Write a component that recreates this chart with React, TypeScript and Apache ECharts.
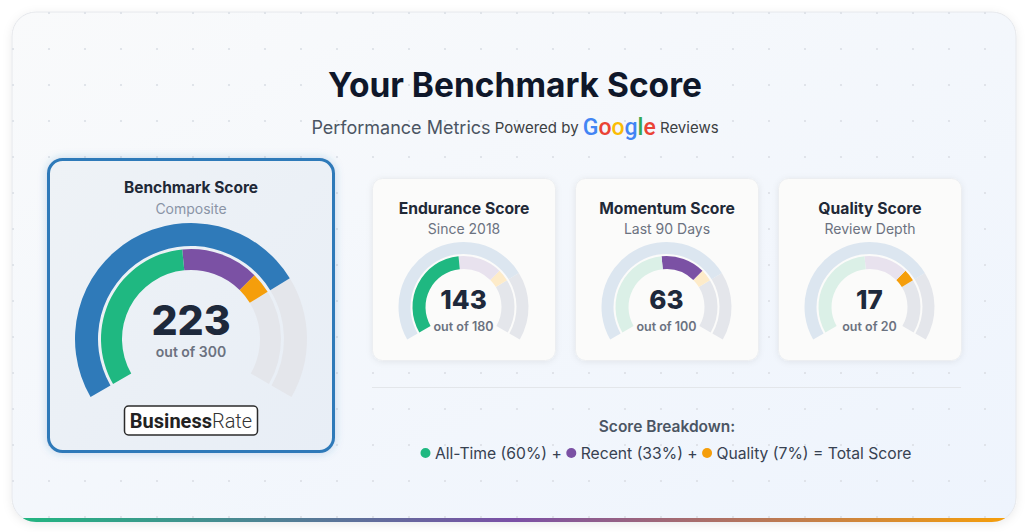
import React, { useEffect, useRef } from 'react';
import * as echarts from 'echarts';

// ---- data ----
const components = ['All-Time', 'Recent', 'Quality'];
const scores = [143, 63, 17];
const maxes = [180, 100, 20];
const cardTitles = ['Endurance Score', 'Momentum Score', 'Quality Score'];
const cardSubtitles = ['Since 2018', 'Last 90 Days', 'Review Depth'];
const mainTitle = 'Your Benchmark Score';
const compositeTitle = 'Benchmark Score';
const compositeSubtitle = 'Composite';
const googleLetters = ['G', 'o', 'o', 'g', 'l', 'e'];

// ---- styles ----
const solid = ['#1fb881', '#7b51a4', '#f59e0b'];
const faded = ['#dbf0e7', '#e8e2ee', '#fdebc9'];
const googleColors = ['#4285F4', '#EA4335', '#FBBC05', '#4285F4', '#34A853', '#EA4335'];
const BLUE = '#2f7ab9';
const BLUE_FADED = '#dce6f0';
const GRAY = '#e4e6eb';
const FONT = 'Inter, sans-serif';

const totalMax = maxes.reduce((a, b) => a + b, 0);
const totalScore = scores.reduce((a, b) => a + b, 0);
const weights = maxes.map((m) => Math.round((m / totalMax) * 100));

function ringPair(
  cx: number, cy: number, rO: number, wO: number, rI: number, wI: number,
  highlight: number | null, value: number, label: string,
  valueSize: number, valueOff: number, labelSize: number, labelOff: number
) {
  const base = {
    type: 'gauge', z: 10, center: [cx, cy], startAngle: 210, endAngle: -30, min: 0, max: totalMax,
    pointer: { show: false }, progress: { show: false }, axisTick: { show: false },
    splitLine: { show: false }, axisLabel: { show: false }, anchor: { show: false },
    silent: true,
  };
  const outer = {
    ...base, radius: rO,
    axisLine: { roundCap: false, lineStyle: { width: wO, color: [[totalScore / totalMax, highlight === null ? BLUE : BLUE_FADED], [1, GRAY]] } },
    title: { show: false }, detail: { show: false }, data: [{ value: totalScore }],
  };
  let acc = 0;
  const stops: any[] = scores.map((s, j) => {
    acc += s;
    return [acc / totalMax, highlight === null || highlight === j ? solid[j] : faded[j]];
  });
  stops.push([1, GRAY]);
  const inner = {
    ...base, radius: rI,
    axisLine: { roundCap: false, lineStyle: { width: wI, color: stops } },
    detail: { show: true, offsetCenter: [0, valueOff], fontSize: valueSize, fontWeight: 800, color: '#1e293b', fontFamily: FONT, formatter: '{value}', valueAnimation: false, lineHeight: Math.round(valueSize * 0.8) },
    title: { show: true, offsetCenter: [0, labelOff], fontSize: labelSize, fontWeight: 600, color: '#6b7280', fontFamily: FONT, lineHeight: labelSize },
    data: [{ value, name: label }],
  };
  return [outer, inner];
}

function txt(x: number, y: number, text: string, size: number, weight: any, fill: string, extra: any = {}) {
  return {
    type: 'text', x, y, z: 5,
    style: {
      text, fontSize: size, fontWeight: weight, fontFamily: FONT, fill,
      align: 'center', verticalAlign: 'middle', textAlign: 'center', textVerticalAlign: 'middle', ...extra,
    },
  };
}

function buildOption() {
  const graphics: any[] = [];
  const CX0 = 12, CY0 = 12, CW = 1004, CH = 510, CR = 24;
  // main card
  graphics.push({
    type: 'rect', z: 0,
    shape: { x: CX0, y: CY0, width: CW, height: CH, r: CR },
    style: {
      fill: new echarts.graphic.LinearGradient(0, 0, 1, 1, [
        { offset: 0, color: '#f9fafb' }, { offset: 1, color: '#eef4fd' },
      ]),
      stroke: '#e6e8ec', lineWidth: 1, shadowBlur: 10, shadowColor: 'rgba(0,0,0,0.08)', shadowOffsetY: 2,
    },
  });
  // dot grid
  for (let x = 13; x < CX0 + CW; x += 36) {
    for (let y = 13; y < CY0 + CH - 3; y += 36) {
      const ccx = Math.min(Math.max(x, CX0 + CR), CX0 + CW - CR);
      const ccy = Math.min(Math.max(y, CY0 + CR), CY0 + CH - CR);
      if ((x - ccx) ** 2 + (y - ccy) ** 2 > (CR - 1) ** 2) continue;
      graphics.push({ type: 'circle', z: 1, shape: { cx: x, cy: y, r: 1.1 }, style: { fill: '#dde1e7' } });
    }
  }
  // bottom gradient bar (card bottom 4px clipped by rounded corners)
  const yb = CY0 + CH, yt = yb - 4;
  const lc = CX0 + CR, rc = CX0 + CW - CR, cyc = yb - CR;
  const pts: number[][] = [];
  for (let y = yt; y <= yb + 0.001; y += 0.5) {
    const dy = y - cyc;
    pts.push([lc - Math.sqrt(Math.max(0, CR * CR - dy * dy)), y]);
  }
  for (let y = yb; y >= yt - 0.001; y -= 0.5) {
    const dy = y - cyc;
    pts.push([rc + Math.sqrt(Math.max(0, CR * CR - dy * dy)), y]);
  }
  graphics.push({
    type: 'polygon', z: 2, shape: { points: pts },
    style: {
      fill: new echarts.graphic.LinearGradient(0, 0, 1, 0, [
        { offset: 0, color: '#22b581' }, { offset: 0.5, color: '#7b50a6' }, { offset: 1, color: '#f59e0b' },
      ]),
    },
  });

  // header
  graphics.push(txt(515, 85, mainTitle, 33.5, 700, '#0f172a'));
  const rich: any = {
    pm: { fontSize: 18, fontFamily: FONT, color: '#4b5563', fill: '#4b5563', lineHeight: 30 },
    pb: { fontSize: 15, fontFamily: FONT, color: '#3c4043', fill: '#3c4043', lineHeight: 30 },
  };
  googleLetters.forEach((_, i) => {
    rich['g' + i] = { fontSize: 23, fontFamily: 'Roboto, sans-serif', fontWeight: 500, color: googleColors[i], fill: googleColors[i], lineHeight: 30 };
  });
  const gText = googleLetters.map((l, i) => `{g${i}|${l}}`).join('');
  graphics.push({
    type: 'text', x: 515, y: 127, z: 5,
    style: {
      text: `{pm|Performance Metrics} {pb|Powered by} ${gText} {pb|Reviews}`,
      rich, fontSize: 15, fontFamily: FONT, fill: '#3c4043',
      align: 'center', verticalAlign: 'middle', textAlign: 'center', textVerticalAlign: 'middle',
    },
  });

  // composite card
  graphics.push({
    type: 'rect', z: 3,
    shape: { x: 48.5, y: 159.5, width: 285, height: 292, r: 14 },
    style: {
      fill: new echarts.graphic.LinearGradient(0, 0, 1, 1, [
        { offset: 0, color: '#eef2f6' }, { offset: 1, color: '#e8eef6' },
      ]),
      stroke: BLUE, lineWidth: 3, shadowBlur: 8, shadowColor: 'rgba(47,122,185,0.28)',
    },
  });
  graphics.push(txt(191, 187.5, compositeTitle, 15.5, 700, '#1f2937'));
  graphics.push(txt(191, 208.5, compositeSubtitle, 14, 400, '#8a94a6'));
  // BusinessRate logo
  graphics.push({
    type: 'rect', z: 4, shape: { x: 124.5, y: 406, width: 133, height: 29, r: 4 },
    style: { fill: '#ffffff', stroke: '#2b2b2b', lineWidth: 1.5 },
  });
  graphics.push({
    type: 'text', x: 191, y: 421, z: 5,
    style: {
      text: '{b|Business}{r|Rate}',
      rich: {
        b: { fontSize: 20, fontWeight: 700, fontFamily: 'Roboto, sans-serif', color: '#222222', fill: '#222222' },
        r: { fontSize: 20, fontWeight: 300, fontFamily: 'Roboto, sans-serif', color: '#333333', fill: '#333333' },
      },
      align: 'center', verticalAlign: 'middle', textAlign: 'center', textVerticalAlign: 'middle',
    },
  });

  // small cards
  const cardX = [372, 575, 778];
  const cardW = 183;
  cardX.forEach((x, i) => {
    graphics.push({
      type: 'rect', z: 3, shape: { x: x + 0.5, y: 178.5, width: cardW, height: 182, r: 10 },
      style: { fill: '#fbfbfa', stroke: '#eceef1', lineWidth: 1, shadowBlur: 6, shadowColor: 'rgba(0,0,0,0.07)', shadowOffsetY: 1 },
    });
    graphics.push(txt(x + cardW / 2 + 0.5, 208, cardTitles[i], 15.7, 700, '#1f2937'));
    graphics.push(txt(x + cardW / 2 + 0.5, 228.5, cardSubtitles[i], 14, 400, '#6b7280'));
  });

  // divider
  graphics.push({ type: 'line', z: 3, shape: { x1: 372, y1: 387.5, x2: 961, y2: 387.5 }, style: { stroke: '#e3e6ea', lineWidth: 1 } });

  // breakdown
  graphics.push(txt(667, 426, 'Score Breakdown:', 15.5, 600, '#4b5563'));
  const lrich: any = { t: { fontSize: 15.7, fontFamily: FONT, color: '#374151', fill: '#374151' } };
  solid.forEach((c, i) => {
    lrich['d' + i] = { width: 10, height: 10, borderRadius: 5, backgroundColor: c, fontSize: 1 };
  });
  const legend = components.map((c, i) => `{d${i}| }{t| ${c} (${weights[i]}%)}`).join('{t| + }') + '{t| = Total Score}';
  graphics.push({
    type: 'text', x: 666, y: 453, z: 5,
    style: {
      text: legend, rich: lrich, fontSize: 15.7, fontFamily: FONT, fill: '#374151',
      align: 'center', verticalAlign: 'middle', textAlign: 'center', textVerticalAlign: 'middle',
    },
  });

  const series: any[] = [];
  series.push(...ringPair(191, 339, 116, 23, 90, 21, null, totalScore, `out of ${totalMax}`, 41, -19.5, 14, 12.5));
  cardX.forEach((x, i) => {
    series.push(...ringPair(x + cardW / 2, 307, 65, 12, 51, 13, i, scores[i], `out of ${maxes[i]}`, 26, -8, 12.5, 19));
  });

  return {
    animation: false,
    backgroundColor: '#ffffff',
    textStyle: { fontFamily: FONT },
    graphic: { elements: graphics },
    series,
  };
}

export default function App() {
  const ref = useRef<HTMLDivElement>(null);
  useEffect(() => {
    if (!ref.current) return;
    const chart = echarts.init(ref.current, null, { renderer: 'svg' });
    chart.setOption(buildOption() as any);
    return () => chart.dispose();
  }, []);
  return (
    <div
      ref={ref}
      style={{ position: 'fixed', left: 0, top: 0, width: 1030, height: 532, background: '#ffffff' }}
    />
  );
}
